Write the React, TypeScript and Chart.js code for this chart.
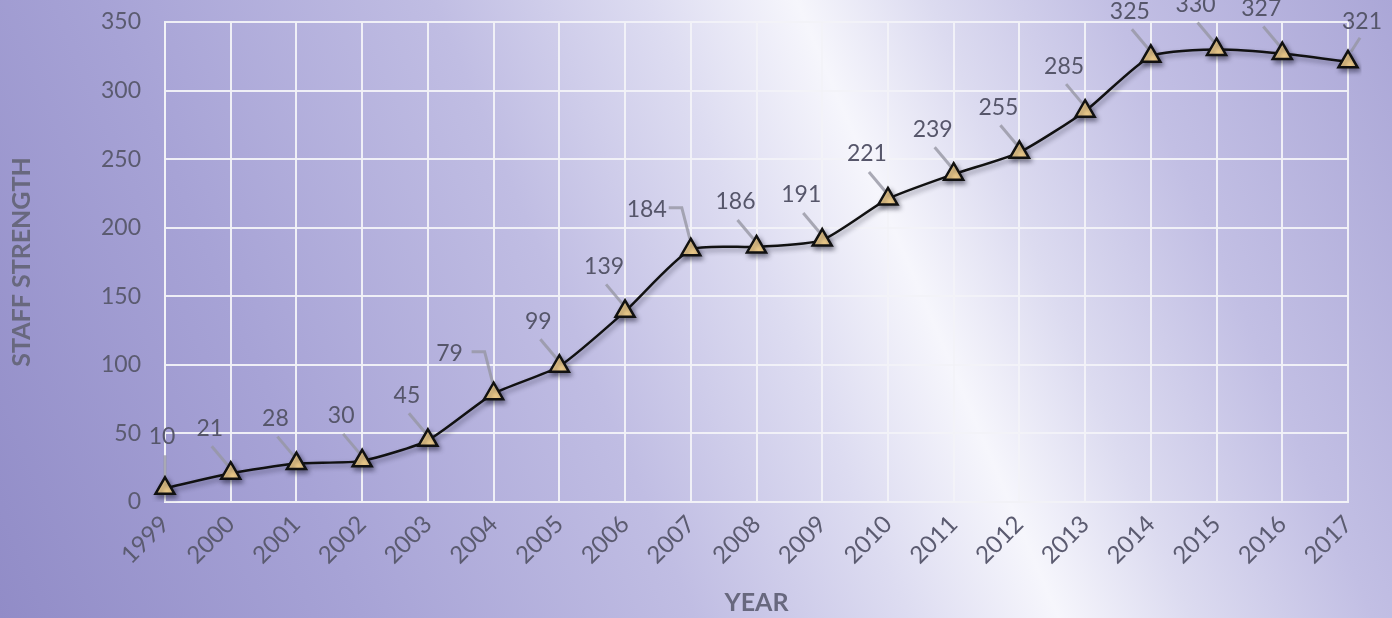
import { useEffect, useRef } from 'react'
import { Chart, registerables } from 'chart.js'
import type { Plugin } from 'chart.js'

Chart.register(...registerables)

const years = ['1999', '2000', '2001', '2002', '2003', '2004', '2005', '2006', '2007', '2008',
  '2009', '2010', '2011', '2012', '2013', '2014', '2015', '2016', '2017']
const staff = [10, 21, 28, 30, 45, 79, 99, 139, 184, 186, 191, 221, 239, 255, 285, 325, 330, 327, 321]
const yMin = 0
const yMax = 350
const yStep = 50

const FONT = "Lato, 'Open Sans', sans-serif"

// how each value label sits against its marker
const leaderKind: Record<string, string> = { '1999': 'above', '2004': 'elbow', '2007': 'elbow', '2017': 'right' }
const PLACES: Record<string, { text: [number, number]; leader: [number, number][] }> = {
  diag: { text: [-21, -45], leader: [[-19, -27], [-3, -8]] },
  above: { text: [-3, -52], leader: [[0, -33], [0, -10]] },
  right: { text: [14, -40], leader: [[12, -24], [3, -10]] },
  elbow: { text: [-44, -40], leader: [[-22, -42], [-9, -42], [-1, -11]] },
}

function placeFor(i: number) {
  return PLACES[leaderKind[years[i]] ?? 'diag']
}

const valueLabels: Plugin<'line'> = {
  id: 'valueLabels',
  beforeDatasetsDraw(chart) {
    const { ctx } = chart
    const meta = chart.getDatasetMeta(0)
    ctx.save()
    ctx.strokeStyle = 'rgba(150,150,162,0.8)'
    ctx.lineWidth = 3
    meta.data.forEach((pt, i) => {
      const { x, y } = pt.getProps(['x', 'y'], true) as { x: number; y: number }
      ctx.beginPath()
      placeFor(i).leader.forEach(([dx, dy], k) => {
        if (k === 0) ctx.moveTo(x + dx, y + dy)
        else ctx.lineTo(x + dx, y + dy)
      })
      ctx.stroke()
    })
    ctx.restore()
  },
  afterDatasetsDraw(chart) {
    const { ctx } = chart
    const meta = chart.getDatasetMeta(0)
    ctx.save()
    ctx.font = `23px ${FONT}`
    ctx.textAlign = 'center'
    ctx.textBaseline = 'middle'
    ctx.fillStyle = '#56566a'
    meta.data.forEach((pt, i) => {
      const { x, y } = pt.getProps(['x', 'y'], true) as { x: number; y: number }
      const p = placeFor(i)
      ctx.fillText(String(staff[i]), x + p.text[0], y + p.text[1])
    })
    ctx.restore()
  },
}

const markerShadow: Plugin<'line'> = {
  id: 'markerShadow',
  beforeDatasetDraw(chart) {
    const { ctx } = chart
    ctx.save()
    ctx.shadowColor = 'rgba(20,20,40,0.45)'
    ctx.shadowBlur = 5
    ctx.shadowOffsetX = 2
    ctx.shadowOffsetY = 3
  },
  afterDatasetDraw(chart) {
    chart.ctx.restore()
  },
}

export default function App() {
  const canvasRef = useRef<HTMLCanvasElement>(null)

  useEffect(() => {
    document.body.style.margin = '0'
    if (!canvasRef.current) return
    const grid = 'rgba(242,242,248,0.95)'
    const chart = new Chart(canvasRef.current, {
      type: 'line',
      data: {
        labels: years,
        datasets: [{
          data: staff,
          borderColor: '#111',
          borderWidth: 2.5,
          tension: 0.2,
          pointStyle: 'triangle',
          pointRadius: 11,
          pointHoverRadius: 11,
          pointBackgroundColor: '#f4d18d',
          pointBorderColor: '#111',
          pointBorderWidth: 2.5,
        }],
      },
      options: {
        animation: false,
        responsive: true,
        maintainAspectRatio: false,
        layout: { padding: { top: 22, right: 44, left: 0, bottom: 0 } },
        plugins: { legend: { display: false }, tooltip: { enabled: false } },
        scales: {
          x: {
            offset: false,
            grid: { color: grid, lineWidth: 2, drawTicks: false },
            border: { color: grid, width: 2 },
            ticks: {
              maxRotation: 45, minRotation: 45, padding: 8, autoSkip: false,
              color: '#5b5b70', font: { family: FONT, size: 24 },
            },
            title: {
              display: true, text: 'YEAR', color: '#68687e',
              font: { family: FONT, size: 25, weight: 'bold' }, padding: { top: 0, bottom: 0 },
            },
            afterFit(scale) { scale.height = 116 },
          },
          y: {
            min: yMin, max: yMax,
            grid: { color: grid, lineWidth: 2, drawTicks: false },
            border: { color: grid, width: 2 },
            ticks: { stepSize: yStep, padding: 24, color: '#5b5b70', font: { family: FONT, size: 23 } },
            title: {
              display: true, text: 'STAFF STRENGTH', color: '#68687e',
              font: { family: FONT, size: 25, weight: 'bold' }, padding: { top: 7, bottom: 0 },
            },
            afterFit(scale) {
              scale.width = 165
              scale.paddingTop = 0
              scale.paddingBottom = 0
            },
          },
        },
      },
      plugins: [valueLabels, markerShadow],
    })
    return () => chart.destroy()
  }, [])

  return (
    <div style={{
      position: 'fixed', left: 0, top: 0, width: 1392, height: 618,
      background: 'linear-gradient(67deg, #918cc7 0%, #a7a3d6 22%, #c0bde3 42%, #dddcf1 55%, #f6f6fc 64%, #dcdbf0 72%, #c2bfe4 83%, #aba7d7 100%)',
    }}>
      <canvas ref={canvasRef} />
    </div>
  )
}
